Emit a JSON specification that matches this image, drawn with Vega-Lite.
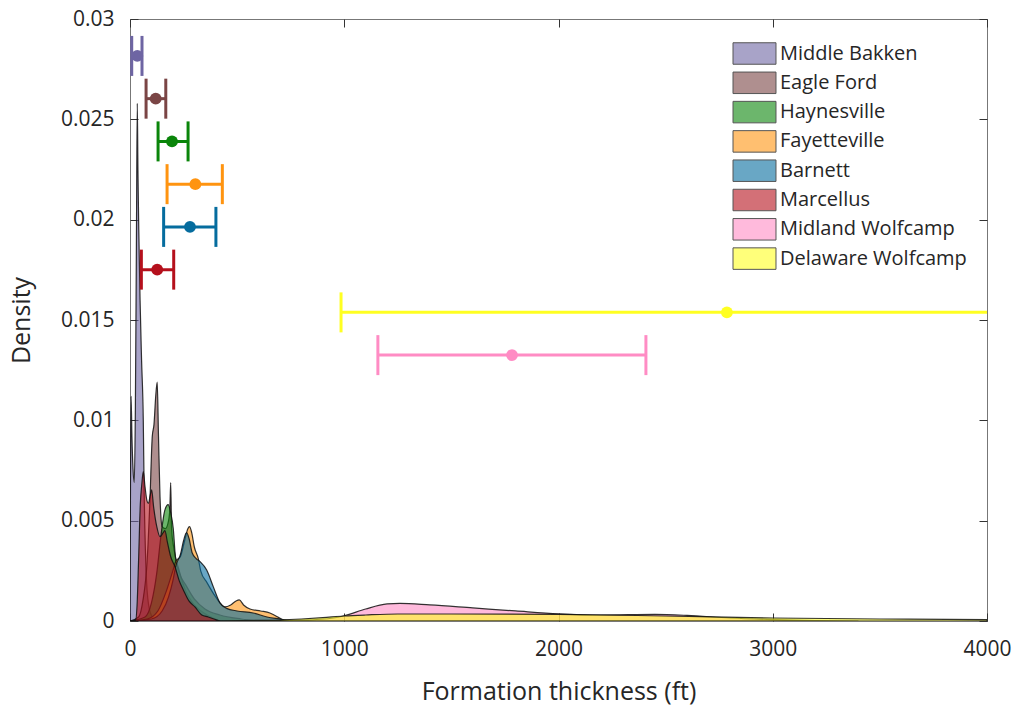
{
  "$schema": "https://vega.github.io/schema/vega-lite/v6.json",
  "width": 857,
  "height": 602,
  "autosize": {"type": "none"},
  "padding": {"left": 130, "top": 19, "right": 27, "bottom": 87},
  "background": "white",
  "config": {
    "font": "Open Sans",
    "view": {"stroke": "#777", "strokeWidth": 1},
    "axis": {"labelFont": "Open Sans", "titleFont": "Open Sans", "grid": false, "tickColor": "#333", "labelColor": "#262626", "titleColor": "#262626", "titleFontWeight": "normal"},
    "legend": {"labelFont": "Open Sans"}
  },
  "datasets": {
    "dens": [
      {"f": "Middle Bakken", "x": 0, "y": 0}, {"f": "Middle Bakken", "x": 2, "y": 0.006}, {"f": "Middle Bakken", "x": 5, "y": 0.0112}, {"f": "Middle Bakken", "x": 9, "y": 0.0092}, {"f": "Middle Bakken", "x": 14, "y": 0.0076}, {"f": "Middle Bakken", "x": 20, "y": 0.0069}, {"f": "Middle Bakken", "x": 25, "y": 0.0105}, {"f": "Middle Bakken", "x": 30, "y": 0.019}, {"f": "Middle Bakken", "x": 34, "y": 0.0258}, {"f": "Middle Bakken", "x": 37, "y": 0.0225}, {"f": "Middle Bakken", "x": 41, "y": 0.0195}, {"f": "Middle Bakken", "x": 47, "y": 0.016}, {"f": "Middle Bakken", "x": 54, "y": 0.013}, {"f": "Middle Bakken", "x": 62, "y": 0.01}, {"f": "Middle Bakken", "x": 66, "y": 0.0065}, {"f": "Middle Bakken", "x": 72, "y": 0.0035}, {"f": "Middle Bakken", "x": 80, "y": 0.0015}, {"f": "Middle Bakken", "x": 95, "y": 0.0004}, {"f": "Middle Bakken", "x": 120, "y": 0},
      {"f": "Eagle Ford", "x": 0, "y": 0}, {"f": "Eagle Ford", "x": 40, "y": 0.0002}, {"f": "Eagle Ford", "x": 60, "y": 0.001}, {"f": "Eagle Ford", "x": 80, "y": 0.003}, {"f": "Eagle Ford", "x": 93, "y": 0.006}, {"f": "Eagle Ford", "x": 104, "y": 0.0092}, {"f": "Eagle Ford", "x": 112, "y": 0.0098}, {"f": "Eagle Ford", "x": 120, "y": 0.0112}, {"f": "Eagle Ford", "x": 127, "y": 0.0119}, {"f": "Eagle Ford", "x": 133, "y": 0.0092}, {"f": "Eagle Ford", "x": 140, "y": 0.0062}, {"f": "Eagle Ford", "x": 150, "y": 0.0047}, {"f": "Eagle Ford", "x": 165, "y": 0.0046}, {"f": "Eagle Ford", "x": 180, "y": 0.005}, {"f": "Eagle Ford", "x": 186, "y": 0.0056}, {"f": "Eagle Ford", "x": 190, "y": 0.0069}, {"f": "Eagle Ford", "x": 194, "y": 0.0046}, {"f": "Eagle Ford", "x": 205, "y": 0.0036}, {"f": "Eagle Ford", "x": 230, "y": 0.0025}, {"f": "Eagle Ford", "x": 260, "y": 0.0015}, {"f": "Eagle Ford", "x": 300, "y": 0.0008}, {"f": "Eagle Ford", "x": 360, "y": 0.0003}, {"f": "Eagle Ford", "x": 420, "y": 0},
      {"f": "Haynesville", "x": 0, "y": 0}, {"f": "Haynesville", "x": 70, "y": 0.0002}, {"f": "Haynesville", "x": 100, "y": 0.0009}, {"f": "Haynesville", "x": 125, "y": 0.0024}, {"f": "Haynesville", "x": 145, "y": 0.0043}, {"f": "Haynesville", "x": 162, "y": 0.0055}, {"f": "Haynesville", "x": 178, "y": 0.0058}, {"f": "Haynesville", "x": 190, "y": 0.0054}, {"f": "Haynesville", "x": 202, "y": 0.0046}, {"f": "Haynesville", "x": 212, "y": 0.0032}, {"f": "Haynesville", "x": 230, "y": 0.0024}, {"f": "Haynesville", "x": 260, "y": 0.0018}, {"f": "Haynesville", "x": 300, "y": 0.0011}, {"f": "Haynesville", "x": 350, "y": 0.0006}, {"f": "Haynesville", "x": 420, "y": 0.0003}, {"f": "Haynesville", "x": 520, "y": 0.0001}, {"f": "Haynesville", "x": 600, "y": 0},
      {"f": "Fayetteville", "x": 0, "y": 0}, {"f": "Fayetteville", "x": 80, "y": 0.0001}, {"f": "Fayetteville", "x": 130, "y": 0.0005}, {"f": "Fayetteville", "x": 170, "y": 0.0015}, {"f": "Fayetteville", "x": 200, "y": 0.0025}, {"f": "Fayetteville", "x": 215, "y": 0.003}, {"f": "Fayetteville", "x": 235, "y": 0.0032}, {"f": "Fayetteville", "x": 255, "y": 0.004}, {"f": "Fayetteville", "x": 270, "y": 0.0046}, {"f": "Fayetteville", "x": 278, "y": 0.0047}, {"f": "Fayetteville", "x": 288, "y": 0.0044}, {"f": "Fayetteville", "x": 300, "y": 0.0037}, {"f": "Fayetteville", "x": 319, "y": 0.0031}, {"f": "Fayetteville", "x": 330, "y": 0.0025}, {"f": "Fayetteville", "x": 360, "y": 0.0019}, {"f": "Fayetteville", "x": 400, "y": 0.0012}, {"f": "Fayetteville", "x": 443, "y": 0.0007}, {"f": "Fayetteville", "x": 470, "y": 0.0008}, {"f": "Fayetteville", "x": 495, "y": 0.001}, {"f": "Fayetteville", "x": 510, "y": 0.00105}, {"f": "Fayetteville", "x": 530, "y": 0.0008}, {"f": "Fayetteville", "x": 560, "y": 0.0006}, {"f": "Fayetteville", "x": 610, "y": 0.0005}, {"f": "Fayetteville", "x": 653, "y": 0.0004}, {"f": "Fayetteville", "x": 690, "y": 0.0002}, {"f": "Fayetteville", "x": 720, "y": 0},
      {"f": "Barnett", "x": 0, "y": 0}, {"f": "Barnett", "x": 100, "y": 0.0001}, {"f": "Barnett", "x": 150, "y": 0.0005}, {"f": "Barnett", "x": 180, "y": 0.0012}, {"f": "Barnett", "x": 200, "y": 0.002}, {"f": "Barnett", "x": 215, "y": 0.0028}, {"f": "Barnett", "x": 235, "y": 0.0033}, {"f": "Barnett", "x": 250, "y": 0.004}, {"f": "Barnett", "x": 264, "y": 0.0044}, {"f": "Barnett", "x": 276, "y": 0.0041}, {"f": "Barnett", "x": 290, "y": 0.0034}, {"f": "Barnett", "x": 310, "y": 0.0031}, {"f": "Barnett", "x": 327, "y": 0.00296}, {"f": "Barnett", "x": 358, "y": 0.00254}, {"f": "Barnett", "x": 389, "y": 0.0017}, {"f": "Barnett", "x": 420, "y": 0.0009}, {"f": "Barnett", "x": 451, "y": 0.00063}, {"f": "Barnett", "x": 500, "y": 0.0005}, {"f": "Barnett", "x": 575, "y": 0.0004}, {"f": "Barnett", "x": 640, "y": 0.0002}, {"f": "Barnett", "x": 700, "y": 0.0001}, {"f": "Barnett", "x": 760, "y": 0},
      {"f": "Marcellus", "x": 0, "y": 0}, {"f": "Marcellus", "x": 25, "y": 0}, {"f": "Marcellus", "x": 33, "y": 0.0008}, {"f": "Marcellus", "x": 40, "y": 0.003}, {"f": "Marcellus", "x": 48, "y": 0.0058}, {"f": "Marcellus", "x": 55, "y": 0.0068}, {"f": "Marcellus", "x": 62, "y": 0.00744}, {"f": "Marcellus", "x": 70, "y": 0.0067}, {"f": "Marcellus", "x": 79, "y": 0.006}, {"f": "Marcellus", "x": 86, "y": 0.00586}, {"f": "Marcellus", "x": 95, "y": 0.0063}, {"f": "Marcellus", "x": 101, "y": 0.00653}, {"f": "Marcellus", "x": 110, "y": 0.0057}, {"f": "Marcellus", "x": 125, "y": 0.0047}, {"f": "Marcellus", "x": 140, "y": 0.0042}, {"f": "Marcellus", "x": 155, "y": 0.0044}, {"f": "Marcellus", "x": 163, "y": 0.0045}, {"f": "Marcellus", "x": 175, "y": 0.0039}, {"f": "Marcellus", "x": 190, "y": 0.0032}, {"f": "Marcellus", "x": 210, "y": 0.0027}, {"f": "Marcellus", "x": 230, "y": 0.002}, {"f": "Marcellus", "x": 249, "y": 0.00155}, {"f": "Marcellus", "x": 275, "y": 0.001}, {"f": "Marcellus", "x": 303, "y": 0.0007}, {"f": "Marcellus", "x": 335, "y": 0.0003}, {"f": "Marcellus", "x": 365, "y": 0.0002}, {"f": "Marcellus", "x": 420, "y": 0},
      {"f": "Midland Wolfcamp", "x": 600, "y": 0}, {"f": "Midland Wolfcamp", "x": 800, "y": 0.00004}, {"f": "Midland Wolfcamp", "x": 950, "y": 0.00015}, {"f": "Midland Wolfcamp", "x": 1000, "y": 0.00026}, {"f": "Midland Wolfcamp", "x": 1100, "y": 0.0006}, {"f": "Midland Wolfcamp", "x": 1200, "y": 0.00085}, {"f": "Midland Wolfcamp", "x": 1260, "y": 0.00088}, {"f": "Midland Wolfcamp", "x": 1400, "y": 0.0008}, {"f": "Midland Wolfcamp", "x": 1600, "y": 0.00065}, {"f": "Midland Wolfcamp", "x": 1800, "y": 0.0005}, {"f": "Midland Wolfcamp", "x": 2000, "y": 0.00036}, {"f": "Midland Wolfcamp", "x": 2200, "y": 0.0003}, {"f": "Midland Wolfcamp", "x": 2450, "y": 0.00033}, {"f": "Midland Wolfcamp", "x": 2600, "y": 0.00028}, {"f": "Midland Wolfcamp", "x": 2800, "y": 0.00015}, {"f": "Midland Wolfcamp", "x": 3000, "y": 0.00007}, {"f": "Midland Wolfcamp", "x": 3200, "y": 0.00002}, {"f": "Midland Wolfcamp", "x": 3400, "y": 0},
      {"f": "Delaware Wolfcamp", "x": 400, "y": 0}, {"f": "Delaware Wolfcamp", "x": 600, "y": 0.00003}, {"f": "Delaware Wolfcamp", "x": 700, "y": 0.00005}, {"f": "Delaware Wolfcamp", "x": 800, "y": 0.0001}, {"f": "Delaware Wolfcamp", "x": 900, "y": 0.00017}, {"f": "Delaware Wolfcamp", "x": 1000, "y": 0.00025}, {"f": "Delaware Wolfcamp", "x": 1100, "y": 0.0003}, {"f": "Delaware Wolfcamp", "x": 1250, "y": 0.00035}, {"f": "Delaware Wolfcamp", "x": 1500, "y": 0.00035}, {"f": "Delaware Wolfcamp", "x": 2000, "y": 0.00033}, {"f": "Delaware Wolfcamp", "x": 2500, "y": 0.00025}, {"f": "Delaware Wolfcamp", "x": 3000, "y": 0.00015}, {"f": "Delaware Wolfcamp", "x": 3500, "y": 0.0001}, {"f": "Delaware Wolfcamp", "x": 4000, "y": 0.00007}
    ],
    "ci": [
      {"f": "Middle Bakken", "lo": 8, "mid": 34, "hi": 56, "yb": 0.02816},
      {"f": "Eagle Ford", "lo": 75, "mid": 120, "hi": 167, "yb": 0.02603},
      {"f": "Haynesville", "lo": 131, "mid": 196, "hi": 271, "yb": 0.0239},
      {"f": "Fayetteville", "lo": 173, "mid": 305, "hi": 431, "yb": 0.02177},
      {"f": "Barnett", "lo": 157, "mid": 280, "hi": 401, "yb": 0.01964},
      {"f": "Marcellus", "lo": 53, "mid": 127, "hi": 204, "yb": 0.01751},
      {"f": "Delaware Wolfcamp", "lo": 985, "mid": 2786, "hi": 4590, "yb": 0.01538},
      {"f": "Midland Wolfcamp", "lo": 1157, "mid": 1783, "hi": 2408, "yb": 0.01325}
    ]
  },
  "layer": [
    {
      "data": {"name": "dens"},
      "layer": [
        {"transform": [{"filter": "datum.f === 'Middle Bakken'"}],
         "mark": {"type": "area", "interpolate": "monotone", "fillOpacity": 0.6, "stroke": "#111", "strokeWidth": 1.2, "strokeOpacity": 0.85, "clip": true},
         "encoding": {
           "x": {"field": "x", "type": "quantitative", "scale": {"domain": [0, 4000], "nice": false, "padding": 0},
                 "axis": {"orient": "bottom", "values": [0, 1000, 2000, 3000, 4000], "format": "d", "title": "Formation thickness (ft)", "titleFontSize": 25, "titlePadding": 20, "labelFontSize": 21, "labelPadding": 17, "tickSize": 8, "offset": -8, "domain": false, "labelFlush": false}},
           "y": {"field": "y", "type": "quantitative", "stack": null, "scale": {"domain": [0, 0.03], "nice": false, "padding": 0},
                 "axis": {"orient": "left", "values": [0, 0.005, 0.01, 0.015, 0.02, 0.025, 0.03], "labelExpr": "format(datum.value, '~g')", "title": "Density", "titleFontSize": 25, "titlePadding": 26, "labelFontSize": 21, "labelPadding": 16, "tickSize": 8, "offset": -8, "domain": false, "labelFlush": false}},
           "color": {"field": "f", "type": "nominal",
                     "scale": {"domain": ["Middle Bakken", "Eagle Ford", "Haynesville", "Fayetteville", "Barnett", "Marcellus", "Midland Wolfcamp", "Delaware Wolfcamp"],
                               "range": ["#6e65a3", "#7a4545", "#0a850a", "#ff9410", "#056c9e", "#b5101c", "#ff8cc4", "#ffff22"]},
                     "legend": {"orient": "none", "legendX": 613, "legendY": 23, "title": null, "padding": 0,
                                "symbolType": "M-2,-1H2V1H-2Z", "symbolSize": 462, "symbolStrokeWidth": 1, "symbolStrokeColor": "#555",
                                "labelFontSize": 20, "labelColor": "#262626", "labelOffset": 14, "labelLimit": 300, "rowPadding": 2.3,
                                "encode": {"symbols": {"update": {"fillOpacity": {"value": 0.6}, "opacity": {"value": 1}, "stroke": {"value": "#555"}, "strokeWidth": {"value": 1}}}}}}
         }},
        {"transform": [{"filter": "datum.f === 'Eagle Ford'"}],
         "mark": {"type": "area", "interpolate": "monotone", "fillOpacity": 0.6, "stroke": "#111", "strokeWidth": 1.2, "strokeOpacity": 0.85, "clip": true},
         "encoding": {"x": {"field": "x", "type": "quantitative"}, "y": {"field": "y", "type": "quantitative", "stack": null}, "color": {"field": "f", "type": "nominal"}}},
        {"transform": [{"filter": "datum.f === 'Haynesville'"}],
         "mark": {"type": "area", "interpolate": "monotone", "fillOpacity": 0.6, "stroke": "#111", "strokeWidth": 1.2, "strokeOpacity": 0.85, "clip": true},
         "encoding": {"x": {"field": "x", "type": "quantitative"}, "y": {"field": "y", "type": "quantitative", "stack": null}, "color": {"field": "f", "type": "nominal"}}},
        {"transform": [{"filter": "datum.f === 'Fayetteville'"}],
         "mark": {"type": "area", "interpolate": "monotone", "fillOpacity": 0.6, "stroke": "#111", "strokeWidth": 1.2, "strokeOpacity": 0.85, "clip": true},
         "encoding": {"x": {"field": "x", "type": "quantitative"}, "y": {"field": "y", "type": "quantitative", "stack": null}, "color": {"field": "f", "type": "nominal"}}},
        {"transform": [{"filter": "datum.f === 'Barnett'"}],
         "mark": {"type": "area", "interpolate": "monotone", "fillOpacity": 0.6, "stroke": "#111", "strokeWidth": 1.2, "strokeOpacity": 0.85, "clip": true},
         "encoding": {"x": {"field": "x", "type": "quantitative"}, "y": {"field": "y", "type": "quantitative", "stack": null}, "color": {"field": "f", "type": "nominal"}}},
        {"transform": [{"filter": "datum.f === 'Marcellus'"}],
         "mark": {"type": "area", "interpolate": "monotone", "fillOpacity": 0.6, "stroke": "#111", "strokeWidth": 1.2, "strokeOpacity": 0.85, "clip": true},
         "encoding": {"x": {"field": "x", "type": "quantitative"}, "y": {"field": "y", "type": "quantitative", "stack": null}, "color": {"field": "f", "type": "nominal"}}},
        {"transform": [{"filter": "datum.f === 'Midland Wolfcamp'"}],
         "mark": {"type": "area", "interpolate": "monotone", "fillOpacity": 0.6, "stroke": "#111", "strokeWidth": 1.2, "strokeOpacity": 0.85, "clip": true},
         "encoding": {"x": {"field": "x", "type": "quantitative"}, "y": {"field": "y", "type": "quantitative", "stack": null}, "color": {"field": "f", "type": "nominal"}}},
        {"transform": [{"filter": "datum.f === 'Delaware Wolfcamp'"}],
         "mark": {"type": "area", "interpolate": "monotone", "fillOpacity": 0.6, "stroke": "#111", "strokeWidth": 1.2, "strokeOpacity": 0.85, "clip": true},
         "encoding": {"x": {"field": "x", "type": "quantitative"}, "y": {"field": "y", "type": "quantitative", "stack": null}, "color": {"field": "f", "type": "nominal"}}}
      ]
    },
    {
      "data": {"name": "ci"},
      "layer": [
        {"mark": {"type": "bar", "size": 3, "opacity": 1, "clip": true},
         "encoding": {
           "x": {"field": "lo", "type": "quantitative", "axis": {"orient": "top", "values": [0, 1000, 2000, 3000, 4000], "labels": false, "title": null, "tickSize": 8, "offset": -8, "domain": false}},
           "x2": {"field": "hi"},
           "y": {"field": "yb", "type": "quantitative", "axis": {"orient": "right", "values": [0, 0.005, 0.01, 0.015, 0.02, 0.025, 0.03], "labels": false, "title": null, "tickSize": 8, "offset": -8, "domain": false}},
           "color": {"field": "f", "type": "nominal"}}},
        {"mark": {"type": "tick", "orient": "vertical", "size": 40, "thickness": 3, "opacity": 1, "clip": true},
         "encoding": {
           "x": {"field": "lo", "type": "quantitative", "axis": {"orient": "top", "values": [0, 1000, 2000, 3000, 4000], "labels": false, "title": null, "tickSize": 8, "offset": -8, "domain": false}},
           "y": {"field": "yb", "type": "quantitative", "axis": {"orient": "right", "values": [0, 0.005, 0.01, 0.015, 0.02, 0.025, 0.03], "labels": false, "title": null, "tickSize": 8, "offset": -8, "domain": false}},
           "color": {"field": "f", "type": "nominal"}}},
        {"mark": {"type": "tick", "orient": "vertical", "size": 40, "thickness": 3, "opacity": 1, "clip": true},
         "encoding": {
           "x": {"field": "hi", "type": "quantitative", "axis": {"orient": "top", "values": [0, 1000, 2000, 3000, 4000], "labels": false, "title": null, "tickSize": 8, "offset": -8, "domain": false}},
           "y": {"field": "yb", "type": "quantitative", "axis": {"orient": "right", "values": [0, 0.005, 0.01, 0.015, 0.02, 0.025, 0.03], "labels": false, "title": null, "tickSize": 8, "offset": -8, "domain": false}},
           "color": {"field": "f", "type": "nominal"}}},
        {"mark": {"type": "point", "filled": true, "size": 140, "opacity": 1, "clip": true},
         "encoding": {
           "x": {"field": "mid", "type": "quantitative", "axis": {"orient": "top", "values": [0, 1000, 2000, 3000, 4000], "labels": false, "title": null, "tickSize": 8, "offset": -8, "domain": false}},
           "y": {"field": "yb", "type": "quantitative", "axis": {"orient": "right", "values": [0, 0.005, 0.01, 0.015, 0.02, 0.025, 0.03], "labels": false, "title": null, "tickSize": 8, "offset": -8, "domain": false}},
           "color": {"field": "f", "type": "nominal"}}}
      ]
    }
  ],
  "resolve": {"axis": {"x": "independent", "y": "independent"}}
}
